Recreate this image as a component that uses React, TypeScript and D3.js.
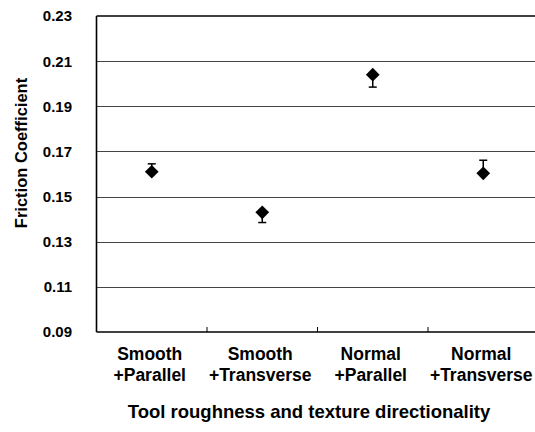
import React, { useEffect, useRef } from "react";
import * as d3 from "d3";

const categories = ["Smooth\n+Parallel", "Smooth\n+Transverse", "Normal\n+Parallel", "Normal\n+Transverse"];
const friction = [0.161, 0.143, 0.204, 0.1603];
const errUp = [0.0035, 0, 0, 0.0058];
const errDown = [0, 0.0045, 0.0055, 0];
const yTicks = [0.09, 0.11, 0.13, 0.15, 0.17, 0.19, 0.21, 0.23];

const W = 535;
const H = 432;
const FONT = "'Liberation Sans', Arial, sans-serif";

const App = () => {
  const svgRef = useRef(null);

  useEffect(() => {
    document.body.style.margin = "0";
    const svg = d3.select(svgRef.current);
    svg.selectAll("*").remove();

    const left = 96.5;
    const right = 538.5;
    const top = 16;
    const bottom = 332;

    const x = d3.scaleBand().domain(categories).range([left, right]);
    const y = d3.scaleLinear().domain([0.09, 0.23]).range([bottom, top]);

    // gridlines
    svg
      .append("g")
      .selectAll("line")
      .data(yTicks.slice(1, -1))
      .enter()
      .append("line")
      .attr("x1", left)
      .attr("x2", right)
      .attr("y1", (d) => Math.round(y(d)) + 0.5)
      .attr("y2", (d) => Math.round(y(d)) + 0.5)
      .attr("stroke", "#444")
      .attr("stroke-width", 1);

    // frame: top + left + bottom
    const frame = svg.append("g").attr("stroke", "#000").attr("stroke-width", 1.6);
    frame.append("line").attr("x1", left).attr("x2", right).attr("y1", top).attr("y2", top);
    frame.append("line").attr("x1", left).attr("x2", left).attr("y1", top).attr("y2", bottom);
    frame.append("line").attr("x1", left).attr("x2", right).attr("y1", bottom).attr("y2", bottom);

    // x ticks between categories (inside)
    svg
      .append("g")
      .selectAll("line")
      .data(categories.slice(1))
      .enter()
      .append("line")
      .attr("x1", (d) => x(d))
      .attr("x2", (d) => x(d))
      .attr("y1", bottom)
      .attr("y2", bottom - 5)
      .attr("stroke", "#000")
      .attr("stroke-width", 1);

    // y tick labels
    svg
      .append("g")
      .selectAll("text")
      .data(yTicks)
      .enter()
      .append("text")
      .attr("x", 72)
      .attr("y", (d) => y(d))
      .attr("dy", "0.36em")
      .attr("text-anchor", "end")
      .attr("font-family", FONT)
      .attr("font-weight", "bold")
      .attr("font-size", 15)
      .text((d) => d.toFixed(2));

    // category labels
    const cat = svg
      .append("g")
      .selectAll("text")
      .data(categories)
      .enter()
      .append("text")
      .attr("text-anchor", "middle")
      .attr("font-family", FONT)
      .attr("font-weight", "bold")
      .attr("font-size", 17.5);
    cat
      .selectAll("tspan")
      .data((d) => d.split("\n").map((t) => ({ t, c: d })))
      .enter()
      .append("tspan")
      .attr("x", (d) => x(d.c) + x.bandwidth() / 2 - 2)
      .attr("y", (d, i) => 360 + i * 21)
      .text((d) => d.t);

    // axis titles
    svg
      .append("text")
      .attr("transform", "translate(27,153) rotate(-90)")
      .attr("text-anchor", "middle")
      .attr("font-family", FONT)
      .attr("font-weight", "bold")
      .attr("font-size", 16.5)
      .text("Friction Coefficient");
    svg
      .append("text")
      .attr("x", 309)
      .attr("y", 418)
      .attr("text-anchor", "middle")
      .attr("font-family", FONT)
      .attr("font-weight", "bold")
      .attr("font-size", 18.5)
      .text("Tool roughness and texture directionality");

    const pts = categories.map((c, i) => ({
      c,
      v: friction[i],
      hi: friction[i] + errUp[i],
      lo: friction[i] - errDown[i],
    }));

    // error bars
    const eb = svg.append("g").attr("stroke", "#000").attr("stroke-width", 1.5);
    pts.forEach((p) => {
      const cx = x(p.c) + x.bandwidth() / 2;
      eb.append("line").attr("x1", cx).attr("x2", cx).attr("y1", y(p.hi)).attr("y2", y(p.lo));
      if (p.hi > p.v)
        eb.append("line").attr("x1", cx - 4).attr("x2", cx + 4).attr("y1", y(p.hi)).attr("y2", y(p.hi));
      if (p.lo < p.v)
        eb.append("line").attr("x1", cx - 4).attr("x2", cx + 4).attr("y1", y(p.lo)).attr("y2", y(p.lo));
    });

    // diamonds
    svg
      .append("g")
      .selectAll("path")
      .data(pts)
      .enter()
      .append("path")
      .attr("d", d3.symbol(d3.symbolDiamond2, 120))
      .attr("transform", (d) => `translate(${x(d.c) + x.bandwidth() / 2},${y(d.v)})`)
      .attr("fill", "#000");
  }, []);

  return <svg ref={svgRef} width={W} height={H} style={{ display: "block", background: "#fff" }} />;
};

export default App;
